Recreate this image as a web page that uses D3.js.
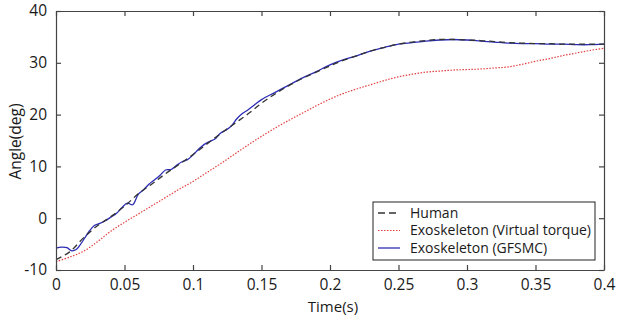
<!DOCTYPE html>
<html lang="en">
<head>
    <meta charset="UTF-8">
    <script src="https://d3js.org/d3.v7.min.js"></script>
    <title>Angle</title>
    <style>
        body { margin: 0; background: #fff; }
        text { font-family: 'Open Sans', sans-serif; fill: #1a1a1a; }
    </style>
</head>
<body>
<script>
    const width = 618, height = 320;
    const margin = {top: 11, right: 14, bottom: 50, left: 56};

    const xTicks = [0, 0.05, 0.1, 0.15, 0.2, 0.25, 0.3, 0.35, 0.4];
    const yTicks = [-10, 0, 10, 20, 30, 40];

    // Human (dashed black)
    const humanT = [0, 0.01, 0.02, 0.03, 0.04, 0.05, 0.06, 0.07, 0.08, 0.09, 0.1, 0.11, 0.12, 0.13, 0.14,
        0.15, 0.16, 0.17, 0.18, 0.19, 0.2, 0.21, 0.22, 0.23, 0.24, 0.25, 0.26, 0.27, 0.28, 0.29, 0.3,
        0.31, 0.32, 0.33, 0.34, 0.35, 0.36, 0.37, 0.38, 0.39, 0.4];
    const humanY = [-8.0, -6.5, -3.8, -1.5, 0.3, 2.3, 4.7, 6.6, 8.6, 10.4, 12.3, 14.3, 16.3, 18.2, 20.1,
        22.2, 24.0, 25.6, 27.0, 28.2, 29.4, 30.5, 31.4, 32.3, 33.0, 33.6, 34.0, 34.3, 34.5, 34.5, 34.4,
        34.3, 34.1, 33.9, 33.8, 33.7, 33.7, 33.6, 33.6, 33.6, 33.6];

    // Exoskeleton (Virtual torque), red dotted
    const virtT = humanT;
    const virtY = [-8.4, -7.5, -6.4, -4.6, -2.5, -0.8, 0.8, 2.4, 4.0, 5.6, 7.1, 8.8, 10.5, 12.3, 14.1,
        15.8, 17.4, 18.9, 20.3, 21.7, 23.0, 24.1, 25.0, 25.8, 26.6, 27.3, 27.8, 28.2, 28.4, 28.6, 28.7,
        28.8, 29.0, 29.2, 29.7, 30.3, 30.8, 31.4, 31.9, 32.4, 32.8];

    // Exoskeleton (GFSMC), blue solid with ripple
    const gfsmcT = [0, 0.004, 0.008, 0.0115, 0.015, 0.018, 0.021, 0.024, 0.028, 0.032, 0.036, 0.04,
        0.044, 0.048, 0.052, 0.056, 0.06, 0.064, 0.068, 0.072, 0.076, 0.08, 0.084, 0.088, 0.092, 0.096,
        0.1, 0.104, 0.108, 0.112, 0.116, 0.12, 0.124, 0.128, 0.132, 0.136, 0.14, 0.145, 0.15, 0.16,
        0.17, 0.18, 0.19, 0.2, 0.21, 0.22, 0.23, 0.24, 0.25, 0.26, 0.27, 0.28, 0.29, 0.3, 0.31, 0.32,
        0.33, 0.34, 0.35, 0.36, 0.37, 0.38, 0.39, 0.4];
    const gfsmcY = [-5.8, -5.6, -5.7, -6.3, -6.0, -5.0, -3.8, -2.6, -1.4, -1.0, -0.5, 0.2,
        0.9, 2.0, 2.9, 2.6, 4.6, 5.5, 6.6, 7.4, 8.3, 9.3, 9.4, 10.2, 10.9, 11.3,
        12.2, 13.3, 14.2, 14.8, 15.3, 16.4, 17.0, 17.8, 19.2, 20.2, 20.9, 21.9, 22.9, 24.3,
        25.7, 27.1, 28.3, 29.6, 30.6, 31.4, 32.3, 33.0, 33.6, 33.9, 34.2, 34.4, 34.5, 34.4, 34.2, 34.0,
        33.8, 33.7, 33.7, 33.6, 33.6, 33.5, 33.5, 33.6];

    const seriesNames = ["Human", "Exoskeleton (Virtual torque)", "Exoskeleton (GFSMC)"];

    const svg = d3.select("body").append("svg")
            .attr("width", width).attr("height", height);

    const x = d3.scaleLinear().domain([0, 0.4]).range([margin.left, width - margin.right]);
    const y = d3.scaleLinear().domain([-10, 40]).range([height - margin.bottom, margin.top]);

    const line = d3.line().x(d => x(d[0])).y(d => y(d[1])).curve(d3.curveCatmullRom);

    const styles = [
        {stroke: "#333", width: 1.3, dash: "6,4"},
        {stroke: "#e2403f", width: 1.2, dash: "1.5,1.5"},
        {stroke: "#2c2cb4", width: 1.3, dash: null}
    ];
    const data = [
        d3.zip(humanT, humanY),
        d3.zip(virtT, virtY),
        d3.zip(gfsmcT, gfsmcY)
    ];

    // draw in order: red, blue, then dashed on top
    [1, 2, 0].forEach(i => {
        svg.append("path")
            .datum(data[i])
            .attr("fill", "none")
            .attr("stroke", styles[i].stroke)
            .attr("stroke-width", styles[i].width)
            .attr("stroke-dasharray", styles[i].dash)
            .attr("d", line);
    });

    // axes with inward ticks on all sides
    const fmt = d => String(d);
    const tl = 5;
    svg.append("g").attr("transform", `translate(0,${y(-10)})`)
        .call(d3.axisBottom(x).tickValues(xTicks).tickFormat(fmt).tickSizeInner(-tl).tickSizeOuter(0).tickPadding(9))
        .call(g => g.selectAll("text").attr("font-size", 15.5).attr("font-family", "'Open Sans', sans-serif").attr("fill", "#1a1a1a"));
    svg.append("g").attr("transform", `translate(0,${y(40)})`)
        .call(d3.axisTop(x).tickValues(xTicks).tickFormat("").tickSizeInner(-tl).tickSizeOuter(0));
    svg.append("g").attr("transform", `translate(${x(0)},0)`)
        .call(d3.axisLeft(y).tickValues(yTicks).tickFormat(fmt).tickSizeInner(-tl).tickSizeOuter(0).tickPadding(9))
        .call(g => g.selectAll("text").attr("font-size", 15.5).attr("font-family", "'Open Sans', sans-serif").attr("fill", "#1a1a1a"));
    svg.append("g").attr("transform", `translate(${x(0.4)},0)`)
        .call(d3.axisRight(y).tickValues(yTicks).tickFormat("").tickSizeInner(-tl).tickSizeOuter(0));
    svg.selectAll(".domain, .tick line").attr("stroke", "#444").attr("stroke-width", 1.2);

    // axis titles
    svg.append("text")
        .attr("x", (x(0) + x(0.4)) / 2 + 3).attr("y", 311.5)
        .attr("text-anchor", "middle").attr("font-size", 15)
        .text("Time(s)");
    svg.append("text")
        .attr("transform", `translate(21,${(y(-10) + y(40)) / 2 + 1}) rotate(-90)`)
        .attr("text-anchor", "middle").attr("font-size", 15.5)
        .text("Angle(deg)");

    // legend
    const lg = svg.append("g").attr("transform", "translate(373,202)");
    lg.append("rect").attr("width", 222).attr("height", 58)
        .attr("fill", "#fff").attr("stroke", "#222").attr("stroke-width", 1);
    seriesNames.forEach((name, i) => {
        const ry = 11 + i * 17.5;
        lg.append("line")
            .attr("x1", 5).attr("x2", 27).attr("y1", ry).attr("y2", ry)
            .attr("stroke", styles[i].stroke)
            .attr("stroke-width", styles[i].width)
            .attr("stroke-dasharray", i === 0 ? "7,4" : styles[i].dash);
        lg.append("text")
            .attr("x", 37).attr("y", ry).attr("dy", "0.35em")
            .attr("font-size", 14)
            .text(name);
    });
</script>
</body>
</html>
